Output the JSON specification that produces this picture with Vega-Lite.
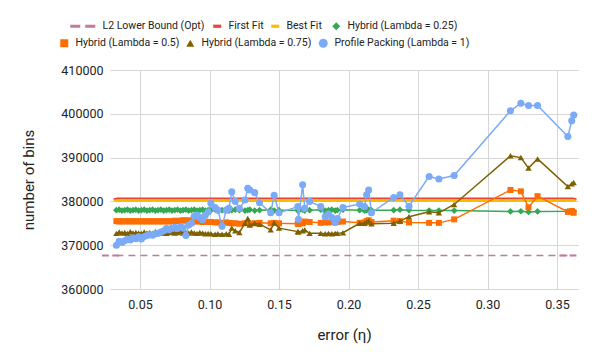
{
"$schema": "https://vega.github.io/schema/vega-lite/v6.json",
"width": 468, "height": 219,
"autosize": {"type": "none"},
"padding": {"left": 110, "top": 70, "right": 20, "bottom": 63},
"background": "white",
"config": {"view": {"stroke": null}, "font": "Roboto",
  "legend": {"title": null, "orient": "none", "direction": "horizontal", "symbolSize": 64, "symbolStrokeWidth": 0, "symbolOpacity": 1,
             "labelFont": "Roboto", "labelFontSize": 10.5, "labelColor": "#222", "labelOffset": 6, "labelLimit": 400, "columnPadding": 9}},
"datasets": {
"L2": [{"x":0.033,"y":367650},{"x":0.362,"y":367650}],
"FF": [{"x":0.033,"y":380550},{"x":0.362,"y":380550}],
"BF": [{"x":0.033,"y":380200},{"x":0.362,"y":380200}],
"H1": [
{"x":0.033,"y":378000},{"x":0.035,"y":378100},{"x":0.037,"y":377900},{"x":0.039,"y":378000},{"x":0.041,"y":378100},{"x":0.043,"y":377900},{"x":0.045,"y":378000},{"x":0.047,"y":378100},{"x":0.049,"y":377900},{"x":0.051,"y":378000},{"x":0.053,"y":378100},{"x":0.055,"y":377900},{"x":0.057,"y":378000},{"x":0.059,"y":378100},{"x":0.061,"y":377900},{"x":0.063,"y":378000},{"x":0.065,"y":378100},{"x":0.067,"y":377900},{"x":0.069,"y":378000},{"x":0.071,"y":378100},{"x":0.073,"y":377900},{"x":0.075,"y":378000},{"x":0.077,"y":378100},{"x":0.079,"y":377900},{"x":0.081,"y":378000},{"x":0.083,"y":378100},{"x":0.085,"y":377900},{"x":0.087,"y":378000},{"x":0.089,"y":378100},{"x":0.091,"y":377900},{"x":0.093,"y":378000},{"x":0.095,"y":378100},{"x":0.097,"y":377900},{"x":0.099,"y":378000},
{"x":0.101,"y":378000},{"x":0.104,"y":378100},{"x":0.106,"y":377900},{"x":0.109,"y":378000},{"x":0.112,"y":378100},{"x":0.114,"y":377900},{"x":0.116,"y":378000},{"x":0.1185,"y":378100},{"x":0.1215,"y":378000},{"x":0.1255,"y":377900},{"x":0.1275,"y":378000},{"x":0.129,"y":378100},{"x":0.1325,"y":377900},{"x":0.136,"y":378000},{"x":0.144,"y":378100},{"x":0.1465,"y":377900},{"x":0.15,"y":378000},{"x":0.1635,"y":378000},{"x":0.164,"y":377800},{"x":0.167,"y":378100},{"x":0.1685,"y":377900},{"x":0.172,"y":378000},{"x":0.18,"y":378100},{"x":0.1832,"y":377900},{"x":0.1856,"y":378000},{"x":0.188,"y":378100},{"x":0.1904,"y":377900},{"x":0.192,"y":378000},{"x":0.196,"y":378100},{"x":0.208,"y":378000},{"x":0.2115,"y":377900},{"x":0.213,"y":378000},{"x":0.2145,"y":378100},{"x":0.2165,"y":378000},{"x":0.2325,"y":378000},{"x":0.237,"y":378100},{"x":0.2435,"y":378000},{"x":0.258,"y":377900},{"x":0.265,"y":377900},{"x":0.276,"y":377900},{"x":0.3165,"y":377700},{"x":0.324,"y":377750},{"x":0.3295,"y":377600},{"x":0.336,"y":377700},{"x":0.3578,"y":377750},{"x":0.3606,"y":377850},{"x":0.362,"y":377800}],
"H2": [
{"x":0.033,"y":375500},{"x":0.035,"y":375400},{"x":0.037,"y":375500},{"x":0.039,"y":375400},{"x":0.041,"y":375500},{"x":0.043,"y":375400},{"x":0.045,"y":375500},{"x":0.047,"y":375400},{"x":0.049,"y":375500},{"x":0.051,"y":375400},{"x":0.053,"y":375500},{"x":0.055,"y":375400},{"x":0.057,"y":375500},{"x":0.059,"y":375400},{"x":0.061,"y":375500},{"x":0.063,"y":375400},{"x":0.065,"y":375500},{"x":0.067,"y":375400},{"x":0.069,"y":375500},{"x":0.071,"y":375400},{"x":0.073,"y":375500},{"x":0.075,"y":375600},{"x":0.077,"y":375500},{"x":0.079,"y":375600},{"x":0.081,"y":375700},{"x":0.083,"y":375600},{"x":0.085,"y":375700},{"x":0.087,"y":375500},{"x":0.089,"y":375400},{"x":0.091,"y":375500},{"x":0.093,"y":375400},{"x":0.095,"y":375300},{"x":0.097,"y":375400},{"x":0.099,"y":375300},
{"x":0.101,"y":375300},{"x":0.104,"y":375200},{"x":0.106,"y":375200},{"x":0.109,"y":375100},{"x":0.112,"y":375200},{"x":0.114,"y":375100},{"x":0.116,"y":375000},{"x":0.1185,"y":375000},{"x":0.1215,"y":374900},{"x":0.1255,"y":375000},{"x":0.1275,"y":375100},{"x":0.129,"y":374900},{"x":0.1325,"y":375000},{"x":0.136,"y":375100},{"x":0.144,"y":375000},{"x":0.1465,"y":375100},{"x":0.15,"y":375000},{"x":0.1635,"y":374900},{"x":0.164,"y":374800},{"x":0.167,"y":375000},{"x":0.1685,"y":375400},{"x":0.172,"y":375300},{"x":0.18,"y":375100},{"x":0.1832,"y":375200},{"x":0.1856,"y":375200},{"x":0.188,"y":375300},{"x":0.1904,"y":375200},{"x":0.192,"y":375300},{"x":0.196,"y":375400},{"x":0.208,"y":375100},{"x":0.2115,"y":375200},{"x":0.213,"y":375500},{"x":0.2145,"y":375700},{"x":0.2165,"y":375300},{"x":0.2325,"y":375600},{"x":0.237,"y":375500},{"x":0.2435,"y":375200},{"x":0.258,"y":375100},{"x":0.265,"y":375100},{"x":0.276,"y":375900},{"x":0.3165,"y":382600},{"x":0.324,"y":382300},{"x":0.3295,"y":378650},{"x":0.336,"y":381200},{"x":0.3578,"y":377600},{"x":0.3606,"y":377800},{"x":0.362,"y":377400}],
"H3": [
{"x":0.033,"y":372700},{"x":0.035,"y":373000},{"x":0.037,"y":372800},{"x":0.039,"y":372900},{"x":0.041,"y":372700},{"x":0.043,"y":373100},{"x":0.045,"y":372800},{"x":0.047,"y":372900},{"x":0.049,"y":372800},{"x":0.051,"y":372700},{"x":0.053,"y":373000},{"x":0.055,"y":372800},{"x":0.057,"y":372900},{"x":0.059,"y":372700},{"x":0.061,"y":373100},{"x":0.063,"y":372800},{"x":0.065,"y":372900},{"x":0.067,"y":372800},{"x":0.069,"y":372700},{"x":0.071,"y":372900},{"x":0.073,"y":373000},{"x":0.075,"y":372800},{"x":0.077,"y":372900},{"x":0.079,"y":373100},{"x":0.081,"y":372800},{"x":0.083,"y":372900},{"x":0.085,"y":372800},{"x":0.087,"y":373000},{"x":0.089,"y":372800},{"x":0.091,"y":372700},{"x":0.093,"y":372900},{"x":0.095,"y":372800},{"x":0.097,"y":372600},{"x":0.099,"y":372700},
{"x":0.101,"y":372600},{"x":0.104,"y":372500},{"x":0.106,"y":372600},{"x":0.109,"y":372500},{"x":0.112,"y":372600},{"x":0.114,"y":372500},{"x":0.116,"y":373900},{"x":0.1185,"y":373300},{"x":0.1215,"y":372900},{"x":0.1255,"y":375000},{"x":0.1275,"y":376100},{"x":0.129,"y":374600},{"x":0.1325,"y":375000},{"x":0.136,"y":374800},{"x":0.144,"y":373500},{"x":0.1465,"y":375100},{"x":0.15,"y":373900},{"x":0.1635,"y":373100},{"x":0.164,"y":373000},{"x":0.167,"y":373300},{"x":0.1685,"y":373500},{"x":0.172,"y":372700},{"x":0.18,"y":372700},{"x":0.1832,"y":372600},{"x":0.1856,"y":372700},{"x":0.188,"y":372600},{"x":0.1904,"y":372700},{"x":0.192,"y":372700},{"x":0.196,"y":372850},{"x":0.208,"y":375000},{"x":0.2115,"y":375000},{"x":0.213,"y":375300},{"x":0.2145,"y":375600},{"x":0.2165,"y":374900},{"x":0.2325,"y":375000},{"x":0.237,"y":375500},{"x":0.2435,"y":376500},{"x":0.258,"y":377650},{"x":0.265,"y":377400},{"x":0.276,"y":379300},{"x":0.3165,"y":390400},{"x":0.324,"y":390000},{"x":0.3295,"y":387600},{"x":0.336,"y":389700},{"x":0.3578,"y":383400},{"x":0.3606,"y":384000},{"x":0.362,"y":384300}],
"PP": [
{"x":0.033,"y":370000},{"x":0.035,"y":370900},{"x":0.037,"y":370600},{"x":0.039,"y":371000},{"x":0.041,"y":371400},{"x":0.043,"y":371200},{"x":0.045,"y":371700},{"x":0.047,"y":371500},{"x":0.049,"y":371900},{"x":0.051,"y":371400},{"x":0.053,"y":372000},{"x":0.055,"y":372200},{"x":0.057,"y":372400},{"x":0.059,"y":372300},{"x":0.061,"y":372600},{"x":0.063,"y":372700},{"x":0.065,"y":373000},{"x":0.067,"y":373300},{"x":0.069,"y":373800},{"x":0.071,"y":373500},{"x":0.073,"y":373900},{"x":0.075,"y":374100},{"x":0.077,"y":373800},{"x":0.079,"y":374200},{"x":0.081,"y":374000},{"x":0.083,"y":372200},{"x":0.085,"y":374600},{"x":0.087,"y":375000},{"x":0.089,"y":376600},{"x":0.091,"y":376900},{"x":0.093,"y":376300},{"x":0.095,"y":375800},{"x":0.097,"y":376900},{"x":0.099,"y":377600},
{"x":0.101,"y":379600},{"x":0.104,"y":378600},{"x":0.106,"y":378000},{"x":0.109,"y":374300},{"x":0.112,"y":378000},{"x":0.114,"y":378400},{"x":0.116,"y":382200},{"x":0.1185,"y":380000},{"x":0.1215,"y":378400},{"x":0.1255,"y":380300},{"x":0.1275,"y":383000},{"x":0.129,"y":382600},{"x":0.1325,"y":382000},{"x":0.136,"y":379700},{"x":0.144,"y":377400},{"x":0.1465,"y":381400},{"x":0.15,"y":377400},{"x":0.1635,"y":378800},{"x":0.164,"y":375900},{"x":0.167,"y":383800},{"x":0.1685,"y":378400},{"x":0.172,"y":380000},{"x":0.18,"y":378800},{"x":0.1832,"y":376500},{"x":0.1856,"y":377100},{"x":0.188,"y":376300},{"x":0.1904,"y":375200},{"x":0.192,"y":376100},{"x":0.196,"y":378600},{"x":0.208,"y":379400},{"x":0.2115,"y":378800},{"x":0.213,"y":381500},{"x":0.2145,"y":382600},{"x":0.2165,"y":377400},{"x":0.2325,"y":380900},{"x":0.237,"y":381500},{"x":0.2435,"y":378900},{"x":0.258,"y":385700},{"x":0.265,"y":385100},{"x":0.276,"y":385900},{"x":0.3165,"y":400700},{"x":0.324,"y":402400},{"x":0.3295,"y":401900},{"x":0.336,"y":401900},{"x":0.3578,"y":394800},{"x":0.3606,"y":398400},{"x":0.362,"y":399700}]
},
"encoding": {
  "x": {"field": "x", "type": "quantitative",
        "scale": {"domain": [0.0284, 0.3651], "nice": false, "zero": false},
        "axis": {"title": "error (η)", "values": [0.05,0.1,0.15,0.2,0.25,0.3,0.35], "format": ".2f",
                 "grid": true, "gridColor": "#d6d6d6", "ticks": false, "domain": false,
                 "labelFont": "Roboto", "labelFontSize": 12.5, "labelColor": "#222", "labelPadding": 9,
                 "titleFont": "Roboto", "titleFontSize": 15, "titleFontWeight": "normal", "titleColor": "#222", "titlePadding": 17}},
  "y": {"field": "y", "type": "quantitative",
        "scale": {"domain": [360000, 410000], "nice": false, "zero": false},
        "axis": {"title": "number of bins", "values": [360000,370000,380000,390000,400000,410000], "format": "d",
                 "grid": true, "gridColor": "#d6d6d6", "ticks": false, "domain": false,
                 "labelFont": "Roboto", "labelFontSize": 12.5, "labelColor": "#222", "labelPadding": 7,
                 "titleFont": "Roboto", "titleFontSize": 15, "titleFontWeight": "normal", "titleColor": "#222", "titlePadding": 24}}
},
"layer": [
  {
    "layer": [
      {"data": {"name": "L2"}, "mark": {"type": "line", "strokeWidth": 1.5, "strokeDash": [7, 5]},
       "encoding": {
         "color": {"datum": "L2 Lower Bound (Opt)", "scale": {"domain": ["L2 Lower Bound (Opt)"], "range": ["#c27ba0"]},
                   "legend": {"legendX": -24, "legendY": -49}},
         "shape": {"datum": "L2 Lower Bound (Opt)", "scale": {"domain": ["L2 Lower Bound (Opt)"], "range": ["M-5.25,-0.35H-2.75V0.35H-5.25Z M-1.5,-0.35H1V0.35H-1.5Z"]},
                   "legend": {"legendX": -24, "legendY": -49, "symbolFillColor": "#c27ba0"}}}}
    ]
  },
  {
    "layer": [
      {"data": {"name": "FF"}, "mark": {"type": "line", "strokeWidth": 3},
       "encoding": {
         "color": {"datum": "First Fit", "scale": {"domain": ["First Fit"], "range": ["#ea4335"]},
                   "legend": {"legendX": 102, "legendY": -49}},
         "shape": {"datum": "First Fit", "scale": {"domain": ["First Fit"], "range": ["M-1,-0.4H1V0.4H-1Z"]},
                   "legend": {"legendX": 102, "legendY": -49, "symbolFillColor": "#ea4335"}}}}
    ]
  },
  {
    "layer": [
      {"data": {"name": "BF"}, "mark": {"type": "line", "strokeWidth": 3},
       "encoding": {
         "color": {"datum": "Best Fit", "scale": {"domain": ["Best Fit"], "range": ["#fbbc04"]},
                   "legend": {"legendX": 160, "legendY": -49}},
         "shape": {"datum": "Best Fit", "scale": {"domain": ["Best Fit"], "range": ["M-1,-0.4H1V0.4H-1Z"]},
                   "legend": {"legendX": 160, "legendY": -49, "symbolFillColor": "#fbbc04"}}}}
    ]
  },
  {
    "layer": [
      {"data": {"name": "H1"}, "mark": {"type": "line", "strokeWidth": 1.5},
       "encoding": {"color": {"datum": "Hybrid (Lambda = 0.25)", "scale": {"domain": ["Hybrid (Lambda = 0.25)"], "range": ["#34a853"]}}}},
      {"data": {"name": "H1"}, "mark": {"type": "point", "filled": true, "opacity": 1, "size": 45},
       "encoding": {
         "color": {"datum": "Hybrid (Lambda = 0.25)", "legend": {"legendX": 221, "legendY": -49}},
         "shape": {"datum": "Hybrid (Lambda = 0.25)", "scale": {"domain": ["Hybrid (Lambda = 0.25)"], "range": ["diamond"]},
                   "legend": {"legendX": 221, "legendY": -49}}}}
    ]
  },
  {
    "layer": [
      {"data": {"name": "H2"}, "mark": {"type": "line", "strokeWidth": 1.5},
       "encoding": {"color": {"datum": "Hybrid (Lambda = 0.5)", "scale": {"domain": ["Hybrid (Lambda = 0.5)"], "range": ["#ff6d01"]}}}},
      {"data": {"name": "H2"}, "mark": {"type": "point", "filled": true, "opacity": 1, "size": 36},
       "encoding": {
         "color": {"datum": "Hybrid (Lambda = 0.5)", "legend": {"legendX": -51, "legendY": -32}},
         "shape": {"datum": "Hybrid (Lambda = 0.5)", "scale": {"domain": ["Hybrid (Lambda = 0.5)"], "range": ["square"]},
                   "legend": {"legendX": -51, "legendY": -32}}}}
    ]
  },
  {
    "layer": [
      {"data": {"name": "H3"}, "mark": {"type": "line", "strokeWidth": 1.5},
       "encoding": {"color": {"datum": "Hybrid (Lambda = 0.75)", "scale": {"domain": ["Hybrid (Lambda = 0.75)"], "range": ["#7f6000"]}}}},
      {"data": {"name": "H3"}, "mark": {"type": "point", "filled": true, "opacity": 1, "size": 40},
       "encoding": {
         "color": {"datum": "Hybrid (Lambda = 0.75)", "legend": {"legendX": 75, "legendY": -32}},
         "shape": {"datum": "Hybrid (Lambda = 0.75)", "scale": {"domain": ["Hybrid (Lambda = 0.75)"], "range": ["triangle-up"]},
                   "legend": {"legendX": 75, "legendY": -32}}}}
    ]
  },
  {
    "layer": [
      {"data": {"name": "PP"}, "mark": {"type": "line", "strokeWidth": 1.5},
       "encoding": {"color": {"datum": "Profile Packing (Lambda = 1)", "scale": {"domain": ["Profile Packing (Lambda = 1)"], "range": ["#7baaf7"]}}}},
      {"data": {"name": "PP"}, "mark": {"type": "point", "filled": true, "opacity": 1, "size": 50},
       "encoding": {
         "color": {"datum": "Profile Packing (Lambda = 1)", "legend": {"legendX": 208, "legendY": -32, "symbolSize": 80}},
         "shape": {"datum": "Profile Packing (Lambda = 1)", "scale": {"domain": ["Profile Packing (Lambda = 1)"], "range": ["circle"]},
                   "legend": {"legendX": 208, "legendY": -32, "symbolSize": 80}}}}
    ]
  }
],
"resolve": {"scale": {"color": "independent", "shape": "independent"}}
}
